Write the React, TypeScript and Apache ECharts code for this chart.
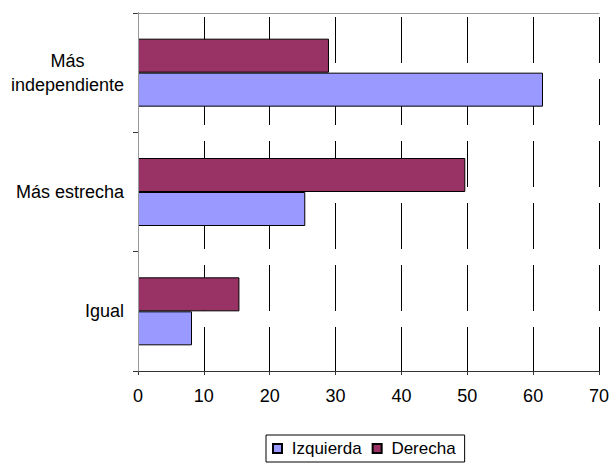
import React, { useEffect, useRef } from "react";
import * as echarts from "echarts";

const categories = ["Igual", "Más estrecha", "Más independiente"];
const izquierda = [8.2, 25.4, 61.5];
const derecha = [15.4, 49.7, 29.0];
const legendNames = ["Izquierda", "Derecha"];
const xTicks = { min: 0, max: 70, interval: 10 };

const FONT = "'Liberation Sans', Arial, sans-serif";

export default function App() {
  const ref = useRef<HTMLDivElement>(null);
  useEffect(() => {
    if (!ref.current) return;
    const chart = echarts.init(ref.current, undefined, { renderer: "svg" });
    chart.setOption({
      animation: false,
      textStyle: { fontFamily: FONT, color: "#000" },
      grid: { left: 138, top: 13, right: 11, bottom: 95, containLabel: false },
      legend: {
        data: legendNames,
        left: 266,
        top: 435,
        orient: "horizontal",
        borderColor: "#000",
        borderWidth: 1,
        padding: [5, 9, 5, 6],
        itemWidth: 9,
        itemHeight: 9,
        itemGap: 10,
        icon: "rect",
        formatter: (n: string) => " " + n,
        textStyle: { fontFamily: FONT, fontSize: 17, color: "#000" },
      },
      xAxis: [
        {
          type: "value",
          min: xTicks.min,
          max: xTicks.max,
          interval: xTicks.interval,
          axisLine: { show: true, lineStyle: { color: "#333", width: 1 } },
          axisTick: { show: true, length: 4, lineStyle: { color: "#333" } },
          axisLabel: { fontSize: 18, color: "#000", margin: 16, fontFamily: FONT },
          splitLine: {
            show: true,
            lineStyle: { color: "#000", width: 1, type: [46, 16], dashOffset: 58 },
          },
        },
        {
          type: "value",
          position: "top",
          min: xTicks.min,
          max: xTicks.max,
          interval: xTicks.interval,
          z: 5,
          axisLine: { show: true, lineStyle: { color: "#999", width: 1 } },
          axisTick: { show: false },
          axisLabel: { show: false },
          splitLine: { show: false },
        },
      ],
      yAxis: [
        {
          type: "category",
          data: categories,
          axisLine: { show: true, lineStyle: { color: "#333", width: 1 } },
          axisTick: { show: true, length: 5, lineStyle: { color: "#333" } },
          axisLabel: {
            margin: 14,
            fontSize: 18,
            color: "#000",
            fontFamily: FONT,
            formatter: (v: string) =>
              v === "Más independiente" ? "{c|Más}\n{c|independiente}" : "{c|" + v + "}",
            rich: {
              c: { align: "center", fontSize: 18, lineHeight: 24, fontFamily: FONT, color: "#000" },
            },
          },
          splitLine: { show: false },
        },
        {
          type: "category",
          data: categories,
          position: "right",
          z: 5,
          axisLine: { show: true, lineStyle: { color: "#999", width: 1 } },
          axisTick: { show: false },
          axisLabel: { show: false },
          splitLine: { show: false },
        },
      ],
      series: [
        {
          name: "Derecha",
          type: "bar",
          data: derecha,
          barWidth: 34,
          barGap: "0%",
          itemStyle: { color: "#993366", borderColor: "#000", borderWidth: 1 },
        },
        {
          name: "Izquierda",
          type: "bar",
          data: izquierda,
          barWidth: 34,
          barGap: "0%",
          itemStyle: { color: "#9999FF", borderColor: "#000", borderWidth: 1 },
        },
      ],
    });
    return () => chart.dispose();
  }, []);
  return (
    <div
      ref={ref}
      style={{ position: "fixed", left: 0, top: 0, width: 612, height: 466, background: "#fff" }}
    />
  );
}
